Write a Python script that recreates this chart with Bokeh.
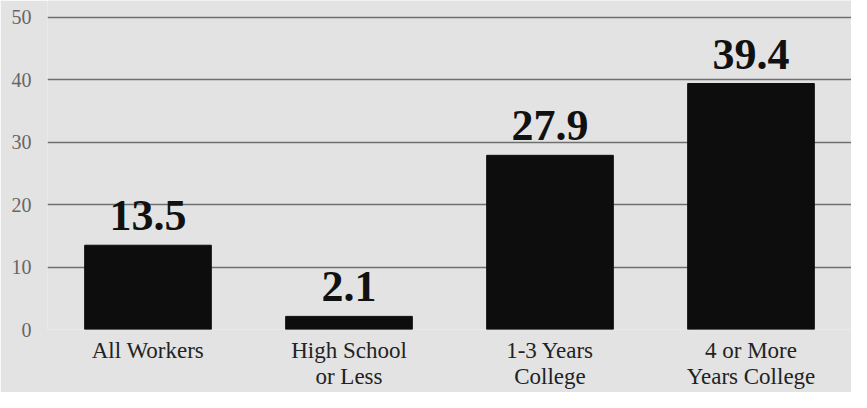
from bokeh.plotting import figure
from bokeh.models import ColumnDataSource, Range1d, FixedTicker
from bokeh.embed import file_html
from bokeh.resources import INLINE
from bokeh.core.properties import value

categories = ["All Workers", "High School\nor Less", "1-3 Years\nCollege", "4 or More\nYears College"]
values = [13.5, 2.1, 27.9, 39.4]
labels = ["13.5", "2.1", "27.9", "39.4"]
y_ticks = [0, 10, 20, 30, 40, 50]

BG = "#e3e3e3"
SERIF = "Liberation Serif"

src = ColumnDataSource(dict(cat=categories, val=values, lab=labels))

p = figure(x_range=categories, y_range=Range1d(0, 52.7),
           width=851, height=392, output_backend="svg", toolbar_location=None,
           min_border_left=47, min_border_right=0, min_border_top=0, min_border_bottom=63)
p.background_fill_color = BG
p.border_fill_color = BG
p.outline_line_color = None

p.vbar(x="cat", top="val", width=0.63, source=src, fill_color="#0d0d0d", line_color="#0d0d0d")
p.text(x="cat", y="val", text="lab", source=src, text_align="center", text_baseline="bottom",
       y_offset=-15, text_font=value(SERIF), text_font_style="bold", text_font_size="44px",
       text_color="#111111")

p.xgrid.grid_line_color = None
p.ygrid.ticker = FixedTicker(ticks=y_ticks)
p.ygrid.grid_line_color = "#6f6f6f"
p.ygrid.grid_line_width = 1.5
p.ygrid.level = "underlay"

p.yaxis.ticker = FixedTicker(ticks=y_ticks)
p.yaxis.axis_line_color = None
p.yaxis.major_tick_line_color = None
p.yaxis.minor_tick_line_color = None
p.yaxis.major_label_text_font = SERIF
p.yaxis.major_label_text_font_size = "20px"
p.yaxis.major_label_text_color = "#666666"
p.yaxis.major_label_standoff = 10
p.yaxis.major_label_text_baseline = "alphabetic"

p.xaxis.axis_line_color = None
p.xaxis.major_tick_line_color = None
p.xaxis.minor_tick_line_color = None
p.xaxis.major_label_text_font = SERIF
p.xaxis.major_label_text_font_size = "23px"
p.xaxis.major_label_text_color = "#222222"
p.xaxis.major_label_text_line_height = 1.05
p.xaxis.major_label_standoff = 2

open("out.html", "w").write(file_html(p, INLINE))
